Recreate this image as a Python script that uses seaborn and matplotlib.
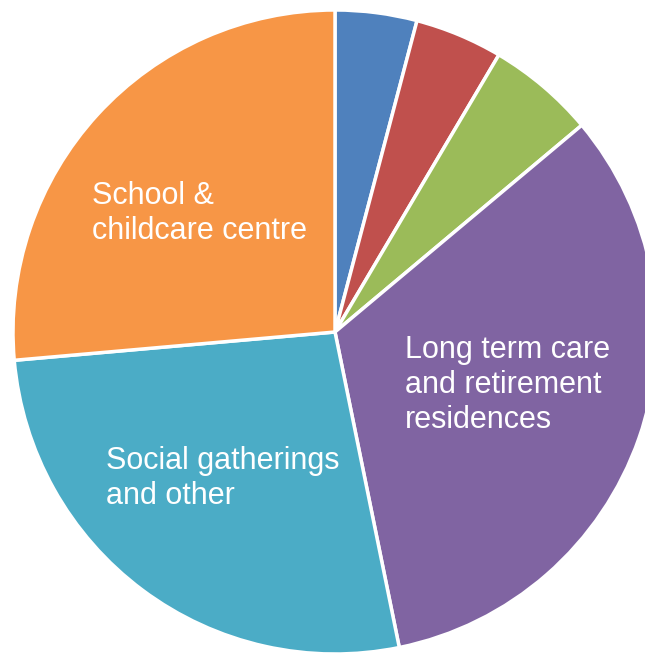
import matplotlib
matplotlib.use("Agg")
import matplotlib.pyplot as plt
import seaborn as sns

# Share of cases by setting (percent)
categories = ["Setting A", "Setting B", "Setting C",
              "Long term care\nand retirement\nresidences",
              "Social gatherings\nand other",
              "School &\nchildcare centre"]
shares = [4.1, 4.4, 5.4, 32.9, 26.8, 26.4]
colors = ["#4F81BD", "#C0504D", "#9BBB59", "#8064A2", "#4BACC6", "#F79646"]

sns.set_theme(style="white")
plt.rcParams["font.family"] = ["Liberation Sans", "DejaVu Sans"]

W, H = 645, 654
fig = plt.figure(figsize=(W / 100, H / 100), dpi=100)
ax = fig.add_axes([0, 0, 1, 1])

cx, cy, r = 335, H - 332, 322
ax.pie(shares, colors=colors, startangle=90, counterclock=False,
       center=(cx, cy), radius=r, frame=True,
       wedgeprops=dict(edgecolor="white", linewidth=2.5))
ax.set_xlim(0, W)
ax.set_ylim(0, H)
ax.set_aspect("equal")
ax.axis("off")

# Labels for the three large slices, (x, last-line baseline) in pixels
label_pos = {3: (405, 428), 4: (106, 504), 5: (92, 239)}
for i, (x, yb) in label_pos.items():
    ax.text(x, H - yb, categories[i], color="white", fontsize=22,
            ha="left", va="baseline", linespacing=1.22,
            transform=ax.transData)

fig.savefig("out.png", dpi=100)
